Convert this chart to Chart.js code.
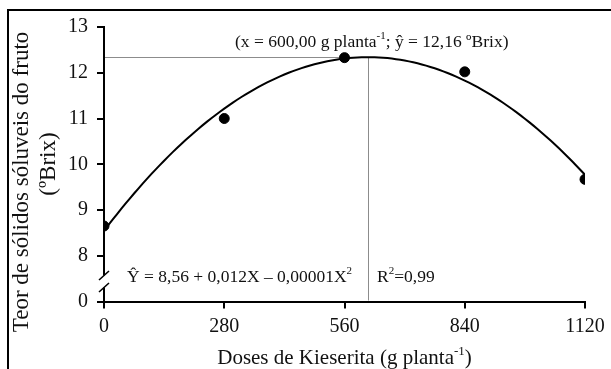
<!DOCTYPE html>
<html><head><meta charset="utf-8">
<script src="https://cdn.jsdelivr.net/npm/chart.js@4.4.1/dist/chart.umd.min.js"></script>
<style>
html,body{margin:0;padding:0;background:#fff;}
#wrap{position:relative;width:611px;height:369px;}
</style></head><body>
<div id="wrap"><canvas id="c" width="611" height="369"></canvas></div>
<script>
// Kieserite doses (g per plant) and soluble solids of the fruit (ºBrix)
const doses = [0, 280, 560, 840, 1120];
const brix = [8.65, 11.0, 12.33, 12.02, 9.67];

// axis ticks; the lowest y tick is shown as "0" below the axis break
const xTicks = [0, 280, 560, 840, 1120];
const yTicks = [7, 8, 9, 10, 11, 12, 13];
const yTickLabels = ['0', '8', '9', '10', '11', '12', '13'];

// text blocks
const yTitle1 = 'Teor de sólidos sóluveis do fruto';
const yTitle2 = '(ºBrix)';
const xTitleParts = [['Doses de Kieserita (g planta', 0], ['-1', 1], [')', 0]];
const maxLabelParts = [['(x = 600,00 g planta', 0], ['-1', 1], ['; ŷ = 12,16 ºBrix)', 0]];
const eqParts = [['Ŷ = 8,56 + 0,012X – 0,00001X', 0], ['2', 1]];
const r2Parts = [['R', 0], ['2', 1], ['=0,99', 0]];

// quadratic least-squares trendline through the observed points
function quadFit(xs, ys) {
  const n = xs.length;
  let s = [0, 0, 0, 0, 0], t = [0, 0, 0];
  for (let i = 0; i < n; i++) {
    let p = 1;
    for (let k = 0; k < 5; k++) { s[k] += p; if (k < 3) t[k] += p * ys[i]; p *= xs[i]; }
  }
  const A = [[s[0], s[1], s[2], t[0]], [s[1], s[2], s[3], t[1]], [s[2], s[3], s[4], t[2]]];
  for (let c = 0; c < 3; c++) {
    for (let r = c + 1; r < 3; r++) {
      const f = A[r][c] / A[c][c];
      for (let k = c; k < 4; k++) A[r][k] -= f * A[c][k];
    }
  }
  const b = [0, 0, 0];
  for (let r = 2; r >= 0; r--) {
    let v = A[r][3];
    for (let k = r + 1; k < 3; k++) v -= A[r][k] * b[k];
    b[r] = v / A[r][r];
  }
  return b; // b0 + b1 x + b2 x^2
}
const coef = quadFit(doses, brix);
const fitAt = x => coef[0] + coef[1] * x + coef[2] * x * x;
const trend = [];
for (let x = doses[0]; x <= doses[doses.length - 1]; x += 10) trend.push({ x: x, y: fitAt(x) });
const xPeak = -coef[1] / (2 * coef[2]);
const yPeak = fitAt(xPeak);

const SERIF = '"Liberation Serif", "Times New Roman", serif';
const INK = '#111';

function drawParts(ctx, parts, x, y, size, align) {
  const supSize = Math.round(size * 0.62);
  let total = 0;
  parts.forEach(([txt, sup]) => {
    ctx.font = (sup ? supSize : size) + 'px ' + SERIF;
    total += ctx.measureText(txt).width;
  });
  let cx = align === 'center' ? x - total / 2 : x;
  ctx.textAlign = 'left';
  ctx.textBaseline = 'alphabetic';
  parts.forEach(([txt, sup]) => {
    ctx.font = (sup ? supSize : size) + 'px ' + SERIF;
    ctx.fillText(txt, cx, sup ? y - size * 0.45 : y);
    cx += ctx.measureText(txt).width;
  });
}

const decor = {
  id: 'decor',
  beforeDatasetsDraw(chart) {
    const { ctx, scales: { x, y } } = chart;
    const px = x.getPixelForValue(xPeak), py = y.getPixelForValue(yPeak);
    ctx.save();
    ctx.strokeStyle = '#8c8c8c';
    ctx.lineWidth = 1;
    ctx.beginPath();
    ctx.moveTo(x.left + 1, Math.round(py) + 0.5);
    ctx.lineTo(Math.round(px) + 0.5, Math.round(py) + 0.5);
    ctx.lineTo(Math.round(px) + 0.5, y.bottom - 1);
    ctx.stroke();
    ctx.restore();
  },
  afterDraw(chart) {
    const { ctx, chartArea: a } = chart;
    ctx.save();
    // outer frame (top and left edges)
    ctx.strokeStyle = '#000';
    ctx.lineWidth = 2;
    ctx.beginPath();
    ctx.moveTo(8, 369);
    ctx.lineTo(8, 10);
    ctx.lineTo(611, 10);
    ctx.stroke();

    // axis break on the y axis
    const bx = a.left;
    const mid = a.bottom - 20;
    ctx.fillStyle = '#fff';
    ctx.fillRect(bx - 3, mid - 6, 6, 12);
    ctx.strokeStyle = '#000';
    ctx.lineWidth = 1.6;
    ctx.beginPath();
    ctx.moveTo(bx - 5, mid - 6 + 4.5); ctx.lineTo(bx + 5, mid - 6 - 4.5);
    ctx.moveTo(bx - 5, mid + 6 + 4.5); ctx.lineTo(bx + 5, mid + 6 - 4.5);
    ctx.stroke();

    ctx.fillStyle = INK;
    // annotations
    drawParts(ctx, maxLabelParts, 235, 47, 17.5, 'left');
    drawParts(ctx, eqParts, 127, 282, 17.5, 'left');
    drawParts(ctx, r2Parts, 377, 282, 17.5, 'left');

    // x axis title
    drawParts(ctx, xTitleParts, (a.left + a.right) / 2, 364, 21, 'center');

    // y axis title (two lines)
    ctx.font = '23px ' + SERIF;
    ctx.textAlign = 'center';
    ctx.textBaseline = 'middle';
    ctx.save();
    ctx.translate(22, 182);
    ctx.rotate(-Math.PI / 2);
    ctx.fillText(yTitle1, 0, 0);
    ctx.restore();
    ctx.save();
    ctx.translate(49, 164);
    ctx.rotate(-Math.PI / 2);
    ctx.fillText(yTitle2, 0, 0);
    ctx.restore();
    ctx.restore();
  }
};

new Chart(document.getElementById('c'), {
  type: 'scatter',
  data: {
    datasets: [
      { type: 'line', data: trend, borderColor: '#000', borderWidth: 2, pointRadius: 0, fill: false, tension: 0, order: 2 },
      { data: doses.map((d, i) => ({ x: d, y: brix[i] })), backgroundColor: '#000', borderColor: '#000', pointRadius: 5, order: 1 }
    ]
  },
  options: {
    responsive: false,
    animation: false,
    devicePixelRatio: 1,
    layout: { padding: { left: 0, right: 26, top: 27, bottom: 0 } },
    plugins: { legend: { display: false }, tooltip: { enabled: false } },
    scales: {
      x: {
        type: 'linear', min: 0, max: 1120,
        afterBuildTicks: s => { s.ticks = xTicks.map(v => ({ value: v })); },
        grid: { drawOnChartArea: false, drawTicks: true, tickLength: 7, color: '#000', lineWidth: 2 },
        border: { color: '#000', width: 2 },
        ticks: { font: { family: SERIF, size: 20 }, color: INK, padding: 6, maxRotation: 0, autoSkip: false,
          callback: v => String(v) },
        afterFit: s => { s.height = 67.5; }
      },
      y: {
        type: 'linear', min: 7, max: 13,
        afterBuildTicks: s => { s.ticks = yTicks.map(v => ({ value: v })); },
        grid: { drawOnChartArea: false, drawTicks: true, tickLength: 7, color: '#000', lineWidth: 2 },
        border: { color: '#000', width: 2 },
        ticks: { font: { family: SERIF, size: 20 }, color: INK, padding: 9, autoSkip: false,
          callback: v => yTickLabels[yTicks.indexOf(v)] },
        afterFit: s => { s.width = 104; }
      }
    }
  },
  plugins: [decor]
});
</script>
</body></html>
